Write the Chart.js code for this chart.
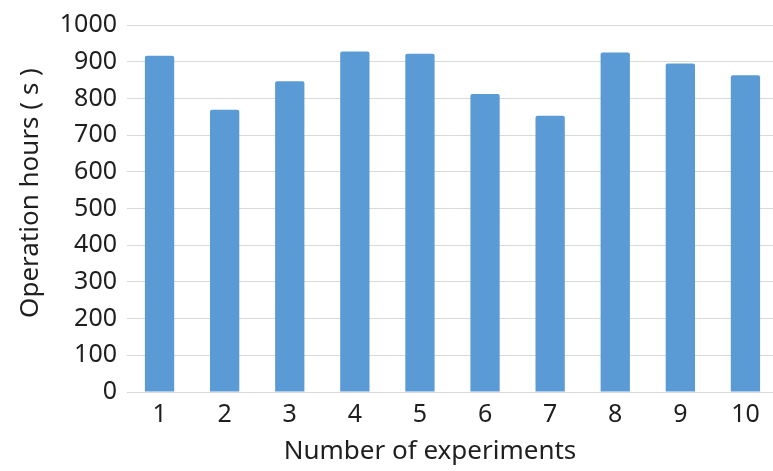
<!DOCTYPE html>
<html>
<head>
<meta charset="utf-8">
<script src="https://cdn.jsdelivr.net/npm/chart.js@4.4.0/dist/chart.umd.min.js"></script>
<style>
	html, body { margin: 0; padding: 0; background: #fff; overflow: hidden; }
	/* plot area of the original runs a few px past the right edge */
	#wrap { width: 778px; height: 471px; }
</style>
</head>
<body>
<div id="wrap"><canvas id="hoursChart"></canvas></div>
<script>
// Data
const experiments = ['1', '2', '3', '4', '5', '6', '7', '8', '9', '10'];
const operationHours = [916, 769, 847, 928, 922, 812, 753, 925, 895, 863];
const yTicks = [0, 100, 200, 300, 400, 500, 600, 700, 800, 900, 1000];

const FONT = '"Noto Sans", sans-serif';
const textColor = '#1f1f1f';

// Axis titles, placed where the original has them
const axisTitles = {
	id: 'axisTitles',
	afterDraw(chart) {
		const ctx = chart.ctx;
		ctx.save();
		ctx.fillStyle = textColor;
		ctx.font = '26px ' + FONT;
		ctx.textAlign = 'center';
		ctx.textBaseline = 'middle';
		ctx.fillText('Number of experiments', 430, 452);
		ctx.translate(31, 193);
		ctx.rotate(-Math.PI / 2);
		ctx.fillText('Operation hours ( s )', 0, 0);
		ctx.restore();
	},
};

const ctx = document.getElementById('hoursChart').getContext('2d');
const hoursChart = new Chart(ctx, {
	type: 'bar',
	data: {
		labels: experiments,
		datasets: [
			{
				label: 'Operation hours',
				data: operationHours,
				backgroundColor: '#5B9BD5',
				borderRadius: 2,
				borderSkipped: 'bottom',
				barPercentage: 0.45,
				categoryPercentage: 1,
			},
		],
	},
	options: {
		responsive: true,
		maintainAspectRatio: false,
		animation: false,
		layout: { padding: { top: 21, right: 0, bottom: 0, left: 0 } },
		plugins: {
			legend: { display: false },
			tooltip: { enabled: false },
		},
		scales: {
			x: {
				grid: { display: false, drawTicks: false },
				border: { display: true, color: '#d9d9d9', width: 1 },
				ticks: {
					color: textColor,
					font: { family: FONT, size: 25 },
					padding: 8,
					maxRotation: 0,
				},
				afterFit: (s) => { s.height = 79; },
			},
			y: {
				min: 0,
				max: 1000,
				afterBuildTicks: (s) => { s.ticks = yTicks.map((v) => ({ value: v })); },
				grid: { color: '#d9d9d9', lineWidth: 1, drawTicks: false },
				border: { display: false },
				ticks: {
					color: textColor,
					font: { family: FONT, size: 25 },
					padding: 10,
					callback: (v) => String(v),
				},
				afterFit: (s) => { s.width = 127; },
			},
		},
	},
	plugins: [axisTitles],
});
</script>
</body>
</html>
